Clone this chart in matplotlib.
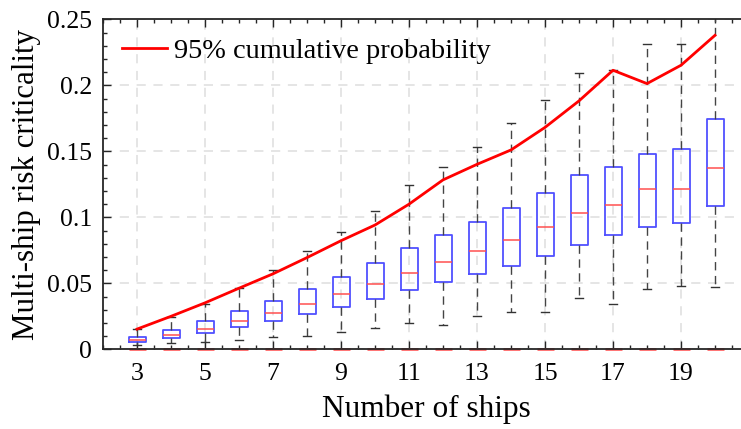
import matplotlib
matplotlib.use('Agg')
import matplotlib.pyplot as plt
from matplotlib.ticker import MultipleLocator, FuncFormatter
from matplotlib.lines import Line2D

# boxplot statistics per number of ships
ships = [3, 4, 5, 6, 7, 8, 9, 10, 11, 12, 13, 14, 15, 16, 17, 18, 19, 20]
whislo = [0.0033, 0.0045, 0.0058, 0.0068, 0.0093, 0.0103, 0.0128, 0.0164, 0.0196,
          0.0184, 0.0252, 0.0285, 0.0282, 0.0390, 0.0342, 0.0456, 0.0476, 0.0474]
q1 = [0.0053, 0.0085, 0.0123, 0.0166, 0.0211, 0.0264, 0.0323, 0.0385, 0.0451,
      0.0511, 0.0574, 0.0632, 0.0710, 0.0793, 0.0869, 0.0927, 0.0957, 0.1088]
med = [0.0070, 0.0108, 0.0156, 0.0214, 0.0277, 0.0345, 0.0421, 0.0496, 0.0579,
       0.0659, 0.0743, 0.0826, 0.0927, 0.1030, 0.1093, 0.1216, 0.1216, 0.1375]
q3 = [0.0093, 0.0149, 0.0211, 0.0287, 0.0368, 0.0458, 0.0546, 0.0652, 0.0768,
      0.0863, 0.0962, 0.1073, 0.1183, 0.1319, 0.1380, 0.1480, 0.1516, 0.1742]
whishi = [0.0151, 0.0244, 0.0347, 0.0468, 0.0604, 0.0748, 0.0889, 0.1048, 0.1246,
          0.1385, 0.1536, 0.1717, 0.1888, 0.2095, 0.2120, 0.2316, 0.2316, 0.2600]
# 95% cumulative probability curve
p95 = [0.0153, 0.0250, 0.0352, 0.0463, 0.0572, 0.0695, 0.0823, 0.0942, 0.1100,
       0.1284, 0.1402, 0.1511, 0.1682, 0.1883, 0.2115, 0.2014, 0.2153, 0.2380]

plt.rcParams['font.family'] = ['Liberation Serif', 'DejaVu Serif']

fig = plt.figure(figsize=(7.41, 4.29), dpi=100)
ax = fig.add_axes([103 / 741, 0.1858, 646 / 741, 0.7688])

stats = []
for i in range(len(ships)):
    stats.append({'whislo': whislo[i], 'q1': q1[i], 'med': med[i],
                  'q3': q3[i], 'whishi': whishi[i], 'fliers': []})

ax.bxp(stats, positions=ships, widths=0.5, capwidths=0.25, showfliers=False,
       boxprops=dict(color='#5050ff', linewidth=1.3),
       medianprops=dict(color='#ff5050', linewidth=1.1),
       whiskerprops=dict(color='#444444', linewidth=1.0, linestyle=(0, (6, 4))),
       capprops=dict(color='#333333', linewidth=1.0), manage_ticks=False, zorder=3)

# red marks sitting on the x axis
ax.hlines([0] * len(ships), [s - 0.25 for s in ships], [s + 0.25 for s in ships],
          colors='#ff6666', linewidth=2.0, zorder=2, clip_on=False)

ax.plot(ships, p95, color='#ff0000', linewidth=2.0, zorder=4)

ax.set_xlim(2, 21)
ax.set_ylim(0, 0.25)
ax.set_xticks([3, 5, 7, 9, 11, 13, 15, 17, 19])
ax.xaxis.set_minor_locator(MultipleLocator(0.5))
ax.yaxis.set_major_locator(MultipleLocator(0.05))
ax.yaxis.set_minor_locator(MultipleLocator(0.01))
ax.yaxis.set_major_formatter(FuncFormatter(lambda v, p: f'{v:g}'))

ax.grid(True, which='major', color='#dedede', linestyle=(0, (6, 5)), linewidth=1.1, zorder=0)
ax.set_axisbelow(True)

ax.tick_params(which='both', direction='in', top=True, right=False, colors='#262626',
               labelcolor='black', labelsize=18.5)
ax.tick_params(axis='x', which='major', length=6, width=1.0, pad=10)
ax.tick_params(axis='y', which='major', length=6, width=1.0, pad=8)
ax.tick_params(which='minor', length=3, width=1.0)
for name, sp in ax.spines.items():
    sp.set_color('#262626')
    sp.set_linewidth(1.3)
    sp.set_zorder(5)
ax.spines['right'].set_visible(False)

ax.set_xlabel('Number of ships', fontsize=22.5, labelpad=7)
ax.set_ylabel('Multi-ship risk criticality', fontsize=22.3, labelpad=4)

handle = Line2D([], [], color='#ff0000', linewidth=2.0)
ax.legend([handle], ['95% cumulative probability'], loc='center left',
          bbox_to_anchor=(0.0294, 0.904), frameon=False, fontsize=20.4,
          borderpad=0, borderaxespad=0, handlelength=1.6, handletextpad=0.25)

fig.savefig('out.png', dpi=100)
